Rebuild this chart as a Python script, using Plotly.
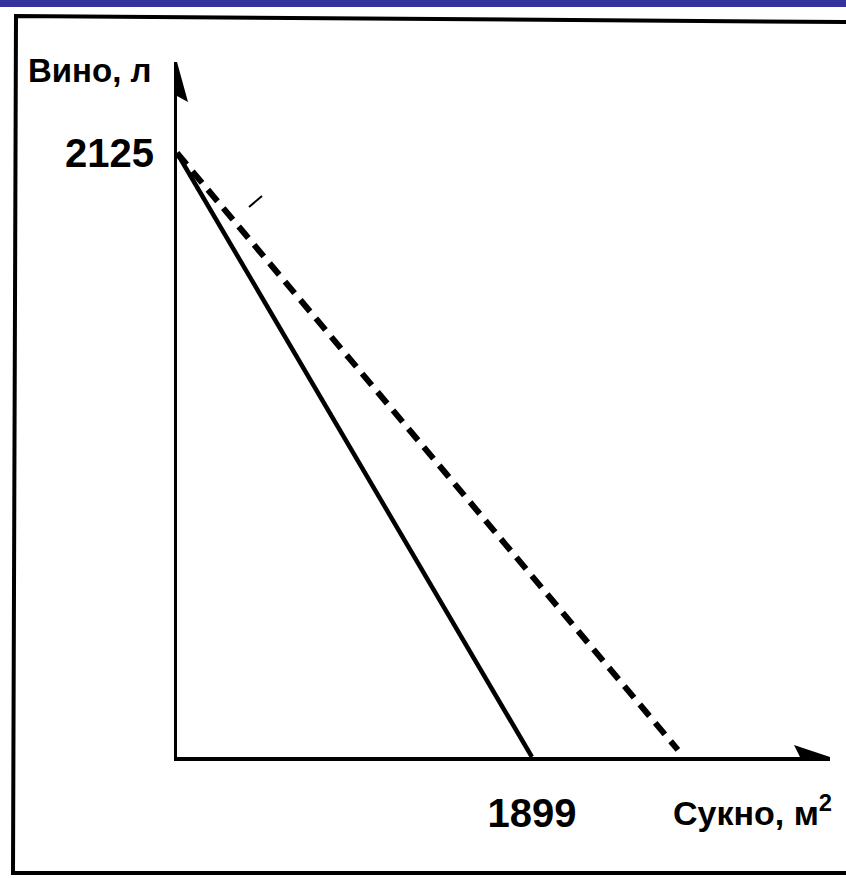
import plotly.graph_objects as go

# ---- data ----
cloth_solid = [0, 1899]
wine_solid = [2125, 0]
cloth_dashed = [0, 2680]
wine_dashed = [2125, 25]
y_ticks = [2125]
y_tick_labels = ["2125"]
x_ticks = [1899]
x_tick_labels = ["1899"]
x_title = "Сукно, м<sup>2</sup>"
y_title = "Вино, л"

W, H = 846, 878
L, R, T, B = 177, 16, 62, 121
x_max = 3494
y_max = 2445
FONT = "Liberation Sans, Arial, sans-serif"


def px(x):
    return (x - L) / (W - L - R)


def py(y):
    return (H - B - y) / (H - T - B)


fig = go.Figure()
fig.add_trace(go.Scatter(x=cloth_solid, y=wine_solid, mode="lines",
                         line=dict(color="black", width=4.5), showlegend=False))
fig.add_trace(go.Scatter(x=cloth_dashed, y=wine_dashed, mode="lines",
                         line=dict(color="black", width=6, dash="15px,9px"),
                         showlegend=False))

shapes = [
    # blue header bar
    dict(type="rect", xref="paper", yref="paper", x0=px(0), x1=px(W), y0=py(0), y1=py(7),
         fillcolor="#333399", line_width=0, layer="above"),
    # page frame
    dict(type="path", xref="paper", yref="paper",
         path=f"M{px(W)},{py(22)} L{px(16)},{py(16)} L{px(13)},{py(873)} L{px(W)},{py(873)}",
         line=dict(color="black", width=4)),
    # y arrow head
    dict(type="path", xref="x", yref="y", xsizemode="pixel", ysizemode="pixel",
         xanchor=0, yanchor=y_max, path="M0,0 L-11,-40 L0,-34 L11,-40 Z",
         fillcolor="black", line_width=0, layer="above"),
    # x arrow head
    dict(type="path", xref="x", yref="y", xsizemode="pixel", ysizemode="pixel",
         xanchor=x_max, yanchor=0, path="M0,0 L-36,12 L-30,0 L-36,-12 Z",
         fillcolor="black", line_width=0, layer="above"),
    # small stray stroke
    dict(type="line", xref="paper", yref="paper", x0=px(249), y0=py(207), x1=px(262), y1=py(196),
         line=dict(color="black", width=2)),
]

annotations = [
    dict(text=f"<b>{y_title}</b>", xref="paper", yref="paper", x=px(154), y=py(70),
         xanchor="right", yanchor="middle", showarrow=False,
         font=dict(family=FONT, size=33, color="black")),
    dict(text=f"<b>{x_title}</b>", xref="paper", yref="paper", x=px(834), y=py(810),
         xanchor="right", yanchor="middle", showarrow=False,
         font=dict(family=FONT, size=34, color="black")),
]

fig.update_layout(
    width=W, height=H,
    margin=dict(l=L, r=R, t=T, b=B, pad=0),
    paper_bgcolor="white", plot_bgcolor="white",
    shapes=shapes, annotations=annotations,
    xaxis=dict(range=[0, x_max], showgrid=False, zeroline=False, showline=True,
               linecolor="black", linewidth=4, tickvals=x_ticks,
               ticktext=[f"<b>{t}</b>" for t in x_tick_labels],
               ticks="", ticklabelstandoff=18,
               tickfont=dict(family=FONT, size=40, color="black")),
    yaxis=dict(range=[0, y_max], showgrid=False, zeroline=False, showline=True,
               linecolor="black", linewidth=3, tickvals=y_ticks,
               ticktext=[f"<b>{t}</b>" for t in y_tick_labels],
               ticks="", ticklabelstandoff=12,
               tickfont=dict(family=FONT, size=40, color="black")),
)

fig.write_html("out.html", config={"displayModeBar": False},
               post_script="document.body.style.margin='0px';")
